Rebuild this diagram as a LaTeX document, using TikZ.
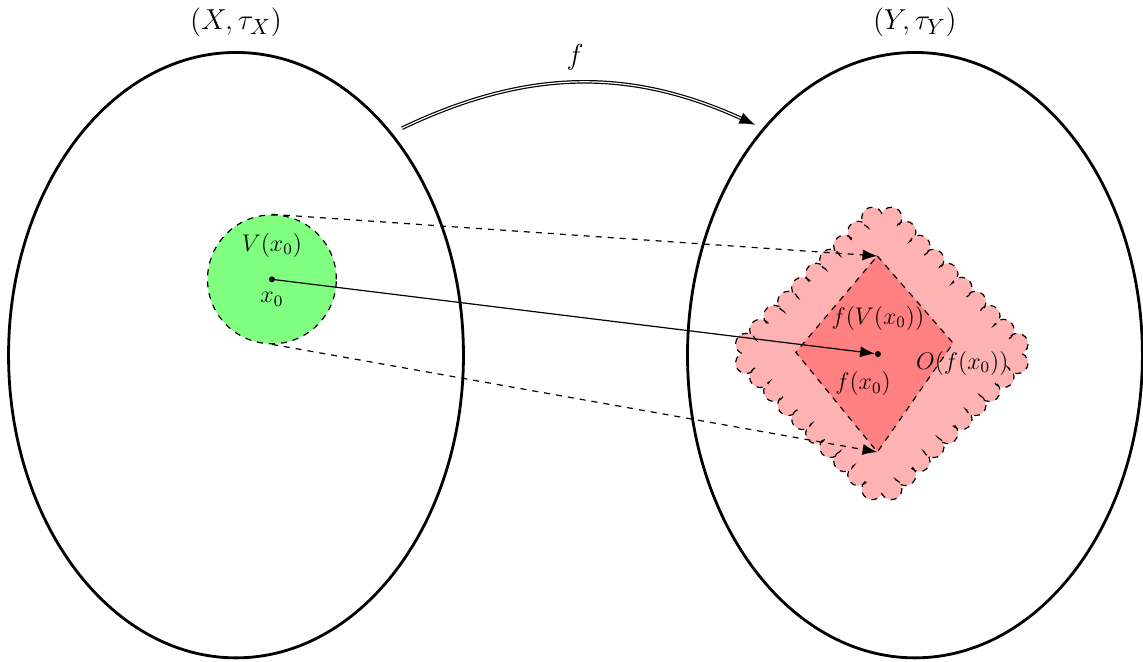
\documentclass[tikz,border=0pt]{standalone}
\usetikzlibrary{shapes.geometric,arrows.meta}
\tikzset{
  space/.style={draw, ellipse, line width=1.4pt, minimum width=7.98cm, minimum height=10.62cm, inner sep=0pt},
  patch/.style={draw, dashed, semithick},
  map/.style={semithick, -{Latex[length=2.6mm]}},
  big/.style={font=\fontsize{15.5}{18}\selectfont},
  small/.style={font=\fontsize{11.5}{14}\selectfont},
}
\begin{document}
\begin{tikzpicture}
  \useasboundingbox (-4.14,-5.37) rectangle (15.91,6.23);
  % the two spaces
  \node[space] (X) at (0,0) {};
  \node[space] (Y) at (11.91,0) {};
  \node[big] (Xlab) at (0,5.84) {$(X,\tau_X)$};
  \node[big] (Ylab) at (11.91,5.84) {$(Y,\tau_Y)$};
  % the map f
  \coordinate (fs) at (2.91,3.98);
  \coordinate (fe) at (9.11,4.04);
  \draw[double, semithick, -{Latex[length=2.8mm]}] (fs) to[bend left=25] (fe);
  \node[big] (flab) at (5.95,5.22) {$f$};
  % open set O(f(x0)), scalloped border: 10 bumps per side
  \coordinate (Ol) at (8.87,0.03);
  \draw[patch, fill=red!30] (Ol)
    \foreach \a in {45,-45,-135,135}{
      \foreach \i in {1,...,10}{ arc[start angle=\a+200, end angle=\a-20, radius=0.185] }
    } -- cycle;
  % image f(V(x0))
  \coordinate (fvt) at (11.25,1.74);
  \coordinate (fvr) at (12.58,0.21);
  \coordinate (fvb) at (11.25,-1.70);
  \coordinate (fvl) at (9.82,0.05);
  \draw[patch, fill=red!50] (fvt) -- (fvr) -- (fvb) -- (fvl) -- cycle;
  % neighbourhood V(x0)
  \node[patch, circle, fill=green!50, minimum size=2.26cm, inner sep=0pt] (V) at (0.63,1.33) {};
  \coordinate (x0) at (V.center);
  \coordinate (fx0) at (11.26,0.02);
  % arrows
  \draw[map, dashed] (V.north) -- (fvt);
  \draw[map, dashed] (V.south) -- (fvb);
  \draw[map, shorten >=1.5pt] (x0) -- (fx0);
  \fill (x0) circle (1.5pt);
  \fill (fx0) circle (1.5pt);
  % labels
  \node[small] (Vlab) at (0.63,1.93) {$V(x_0)$};
  \node[small] (x0lab) at (0.63,0.98) {$x_0$};
  \node[small] (fVlab) at (11.26,0.65) {$f(V(x_0))$};
  \node[small] (fx0lab) at (11.0,-0.5) {$f(x_0)$};
  \node[small] (Olab) at (12.74,-0.14) {$O(f(x_0))$};
\end{tikzpicture}
\end{document}
